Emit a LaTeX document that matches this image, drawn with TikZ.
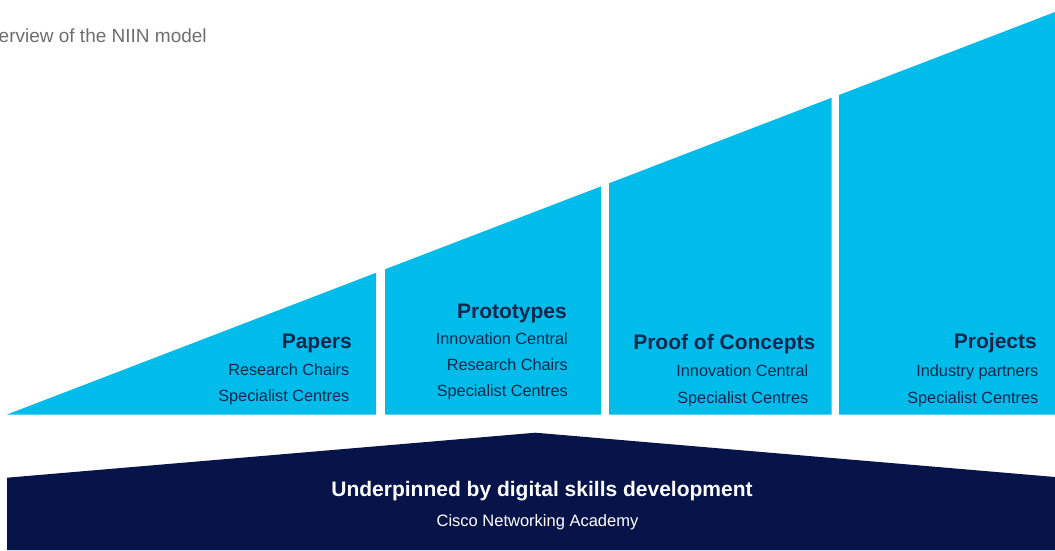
\documentclass[tikz,border=0pt]{standalone}
\usepackage{fontspec}
\setmainfont{Liberation Sans}
\definecolor{skyblue}{HTML}{00BCEB}
\definecolor{deepnavy}{HTML}{07144A}
\definecolor{labelnavy}{HTML}{0D274D}
\definecolor{titlegray}{HTML}{6E6E6E}
\begin{document}
\begin{tikzpicture}[x=1pt,y=-1pt,
  stage/.style={fill=skyblue, draw=none},
  groundwork/.style={fill=deepnavy, draw=none},
  heading/.style={anchor=base east, inner sep=0pt, text=labelnavy,
    font=\fontsize{21}{24}\selectfont\bfseries},
  item/.style={anchor=base east, inner sep=0pt, text=labelnavy,
    font=\fontsize{16.25}{19}\selectfont},
  basehead/.style={anchor=base, inner sep=0pt, text=white,
    font=\fontsize{21}{24}\selectfont\bfseries},
  basesub/.style={anchor=base, inner sep=0pt, text=white,
    font=\fontsize{16.5}{19}\selectfont},
  caption/.style={anchor=base west, inner sep=0pt, text=titlegray,
    font=\fontsize{19}{22}\selectfont},
]
\useasboundingbox (0,0) rectangle (1055,550);

% caption
\node[caption] (title) at (-1.5,42) {erview of the NIIN model};

% rising stages, all under one sloped top edge
\path[stage] (7,414.5) -- (376,272.8) -- (376,414.5) -- cycle;
\path[stage] (385,414.5) -- (385,269.3) -- (601,186.4) -- (601,414.5) -- cycle;
\path[stage] (609,414.5) -- (609,183.3) -- (831.5,97.8) -- (831.5,414.5) -- cycle;
\path[stage] (839,414.5) -- (839,95.0) -- (1055,12) -- (1055,414.5) -- cycle;

% foundation band
\path[groundwork] (7,550) -- (7,477.7) -- (535.5,432.7) -- (1055,477) -- (1055,550) -- cycle;

% stage 1
\node[heading] (papers) at (352,348) {Papers};
\node[item] (papersA) at (349.5,375) {Research Chairs};
\node[item] (papersB) at (349.5,401.5) {Specialist Centres};

% stage 2
\node[heading] (proto) at (567,318) {Prototypes};
\node[item] (protoA) at (568,344.5) {Innovation Central};
\node[item] (protoB) at (568,370.7) {Research Chairs};
\node[item] (protoC) at (568,396.7) {Specialist Centres};

% stage 3
\node[heading] (poc) at (815.5,349) {Proof of Concepts};
\node[item] (pocA) at (808.5,376.7) {Innovation Central};
\node[item] (pocB) at (808.5,403.3) {Specialist Centres};

% stage 4
\node[heading] (proj) at (1037,348.5) {Projects};
\node[item] (projA) at (1038.5,376.7) {Industry partners};
\node[item] (projB) at (1038.5,403) {Specialist Centres};

% foundation labels
\node[basehead] (under) at (542,496.7) {Underpinned by digital skills development};
\node[basesub] (academy) at (537.5,526) {Cisco Networking Academy};
\end{tikzpicture}
\end{document}
